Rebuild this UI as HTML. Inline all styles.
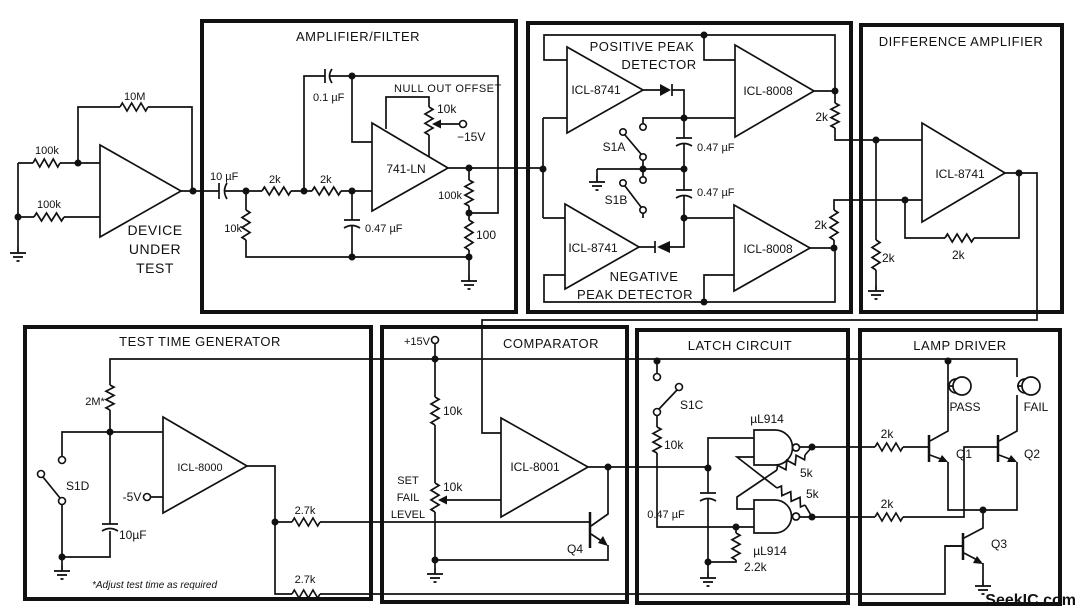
<!DOCTYPE html>
<html><head><meta charset="utf-8"><style>
html,body{margin:0;padding:0;background:#fff;}
svg{display:block;font-family:"Liberation Sans",sans-serif;}
text{fill:#111;}
</style></head><body>
<svg width="1085" height="614" viewBox="0 0 1085 614" xmlns="http://www.w3.org/2000/svg">
<defs>
<polyline id="r" points="0,0 2.5,-4 7.5,4 12.5,-4 17.5,4 22.5,-4 27.5,4 30,0" fill="none" stroke="#111" stroke-width="1.7" vector-effect="non-scaling-stroke"/>
<g id="g" stroke="#111" stroke-width="1.8"><line x1="0" y1="0" x2="0" y2="6"/><line x1="-8" y1="6" x2="8" y2="6"/><line x1="-5" y1="10" x2="5" y2="10"/><line x1="-1.5" y1="14" x2="1.5" y2="14"/></g>
</defs>
<rect width="1085" height="614" fill="#fff"/>
<g fill="none" stroke="#111" stroke-width="4">
<rect x="202" y="21" width="314" height="291"/>
<rect x="528" y="23" width="323" height="289"/>
<rect x="861" y="25" width="201" height="287"/>
<rect x="25" y="327" width="346" height="272"/>
<rect x="382" y="327" width="245" height="275"/>
<rect x="637" y="330" width="211" height="273"/>
<rect x="860" y="330" width="200" height="274"/>
</g>
<g fill="none" stroke="#111" stroke-width="1.7">
<path d="M18,163 H33 M60,163 H100 M78,163 V107 H120 M148,107 H192 V191 M18,163 V247 M18,217 H34 M64,217 H100 M181,191 H219"/>
<polygon points="100,145 100,237 181,191"/>
<path d="M219,183 V199 M227,183 Q222,191 227,199 M224,191 H262 M291,191 H312 M341,191 H372 M246,191 V210 M246,240 V257 H469 M352,191 V220 M344,220 H360 M344,228 Q352,223 360,228 M352,226 V257 M304,191 V76 H325 M325,69 V83 M332,69 Q327,76 332,83 M330,76 H498 V213 H469 M352,76 V142 H372 M386,129 V97 H429 V107 M429,135 V157 M463,124 H438 M448,168 H543 M469,168 V180 M469,206 V220 M469,250 V275"/>
<polygon points="372,123 372,211 448,168"/>
<path d="M543,118 V218 M543,118 H567 M543,218 H565 M567,60 H544 V35 H835 V91 M704,35 V60 H735 M643,90 H660 M672,84 V96 M672,90 H684 V138 M676,138 H692 M676,146 Q684,141 692,146 M684,144 V190 M676,190 H692 M676,198 Q684,193 692,198 M684,196 V247 H670 M655,241 V253 M655,247 H639 M684,118 H735 M684,218 H734 M814,91 H835 V103 M835,128 V140 H922 M643,124 V118 H684 M625,135 L641,154 M643,160 V169 M597,169 H684 M597,169 V176 M643,169 V177 M625,186 L641,207 M643,213 V218 M810,248 H834 V240 M834,210 V200 H922 M565,275 H544 V302 H835 V248 M704,302 V275 H734"/>
<polygon points="567,47 567,133 643,90"/>
<polygon points="735,45 735,137 814,91"/>
<polygon points="565,204 565,289 639,247"/>
<polygon points="734,205 734,291 810,248"/>
<polygon points="922,123 922,222 1005,173"/>
<path d="M1005,173 H1037 V320 H482 V433 H501 M876,140 V240 M876,270 V285 M905,200 V238 H945 M974,238 H1019 V173"/>
<path d="M110,432 V410 M110,385 V359 H1017 V377 M62,457 V432 H163 M43,477 L60,498 M62,504 V557 H110 V531 M102,524 H118 M102,531 Q110,526 118,531 M110,524 V432 M62,557 V565 M247,466 H275 V594 H292 M320,594 H945 V546 H963 M275,522 H292 M320,522 H590 M151,497 H163"/>
<polygon points="163,417 163,513 247,466"/>
<path d="M435,344 V397 M435,425 V483 M435,512 V568 M501,500 H444 M588,467 H708 M608,467 V514 L591,526 M591,534 L606,544 M608,545 V560 H435"/>
<polygon points="501,418 501,517 588,467"/>
<path d="M590,512 V548" stroke-width="2.5"/>
<path d="M657,361 V374 M677,390 L659,409 M657,415 V427 M657,453 V527 H754 M708,468 V493 M700,493 H716 M700,501 Q708,496 716,501 M708,499 V572 M708,468 V438 H754 M736,527 V533 M736,560 V562 H708 M754,430 H775 A17.5,17.5 0 0 1 775,465 H754 Z M754,500 H775 A16.5,16.5 0 0 1 775,533 H754 Z M800,447 H812 M800,517 H812 M754,457 H737 L777,488 M805,505 L812,517 M754,509 H737 V497 L777,470 M805,455 L812,447"/>
<circle cx="796" cy="447.5" r="3.5"/><circle cx="796" cy="516.5" r="3.5"/>
<path d="M812,447 H875 M903,447 H929 M930,441 L948,431 V361 M930,455 L946,461 M948,462 V510 H1017 V462 M999,441 L1017,431 V395 M999,455 L1015,461 M812,517 H875 M903,517 H964 V447 H998 M945,546 H963 M964,538 L983,528 V510 M964,553 L981,562 M983,563 V580"/>
<path d="M929,435 V462 M998,435 V462 M963,533 V560" stroke-width="2.5"/>
<circle cx="962" cy="386" r="9"/><path d="M956,379 A7,7 0 0 0 956,393 M948,386 H953"/>
<circle cx="1031" cy="386" r="9"/><path d="M1025,379 A7,7 0 0 0 1025,393 M1017,386 H1022"/>
</g>
<use href="#r" transform="translate(33,163) scale(0.9,1)"/>
<use href="#r" transform="translate(120,107) scale(0.933,1)"/>
<use href="#r" transform="translate(34,217) scale(1,1)"/>
<use href="#r" transform="translate(262,191) scale(0.967,1)"/>
<use href="#r" transform="translate(312,191) scale(0.967,1)"/>
<use href="#r" transform="translate(246,210) rotate(90)"/>
<use href="#r" transform="translate(429,107) rotate(90) scale(0.933,1)"/>
<use href="#r" transform="translate(469,180) rotate(90) scale(0.867,1)"/>
<use href="#r" transform="translate(469,220) rotate(90)"/>
<use href="#r" transform="translate(835,103) rotate(90) scale(0.833,1)"/>
<use href="#r" transform="translate(834,210) rotate(90)"/>
<use href="#r" transform="translate(876,240) rotate(90)"/>
<use href="#r" transform="translate(945,238) scale(0.967,1)"/>
<use href="#r" transform="translate(110,385) rotate(90) scale(0.833,1)"/>
<use href="#r" transform="translate(292,522) scale(0.933,1)"/>
<use href="#r" transform="translate(292,594) scale(0.933,1)"/>
<use href="#r" transform="translate(435,397) rotate(90) scale(0.933,1)"/>
<use href="#r" transform="translate(435,483) rotate(90) scale(0.967,1)"/>
<use href="#r" transform="translate(657,427) rotate(90) scale(0.867,1)"/>
<use href="#r" transform="translate(736,533) rotate(90) scale(0.9,1)"/>
<use href="#r" transform="translate(777,488) rotate(31.3) scale(1.09,1)"/>
<use href="#r" transform="translate(777,470) rotate(-28.2) scale(1.06,1)"/>
<use href="#r" transform="translate(875,447) scale(0.933,1)"/>
<use href="#r" transform="translate(875,517) scale(0.933,1)"/>
<use href="#g" transform="translate(18,247)"/>
<use href="#g" transform="translate(469,275)"/>
<use href="#g" transform="translate(597,176)"/>
<use href="#g" transform="translate(876,285)"/>
<use href="#g" transform="translate(62,565)"/>
<use href="#g" transform="translate(435,568)"/>
<use href="#g" transform="translate(708,572)"/>
<use href="#g" transform="translate(983,580)"/>
<g fill="#111">
<circle cx="78" cy="163" r="3.5"/><circle cx="18" cy="217" r="3.5"/><circle cx="193" cy="191" r="3.5"/>
<circle cx="246" cy="191" r="3.5"/><circle cx="304" cy="191" r="3.5"/><circle cx="352" cy="191" r="3.5"/><circle cx="352" cy="76" r="3.5"/><circle cx="352" cy="257" r="3.5"/><circle cx="469" cy="168" r="3.5"/><circle cx="469" cy="213" r="3.5"/><circle cx="469" cy="257" r="3.5"/>
<circle cx="543" cy="169" r="3.5"/><circle cx="704" cy="35" r="3.5"/><circle cx="684" cy="118" r="3.5"/><circle cx="643" cy="169" r="3.5"/><circle cx="684" cy="169" r="3.5"/><circle cx="684" cy="218" r="3.5"/><circle cx="704" cy="302" r="3.5"/><circle cx="835" cy="91" r="3.5"/><circle cx="834" cy="248" r="3.5"/>
<circle cx="876" cy="140" r="3.5"/><circle cx="905" cy="200" r="3.5"/><circle cx="1019" cy="173" r="3.5"/>
<circle cx="110" cy="432" r="3.5"/><circle cx="62" cy="557" r="3.5"/><circle cx="275" cy="522" r="3.5"/>
<circle cx="435" cy="359" r="3.5"/><circle cx="435" cy="560" r="3.5"/><circle cx="608" cy="467" r="3.5"/>
<circle cx="657" cy="361" r="3.5"/><circle cx="708" cy="468" r="3.5"/><circle cx="736" cy="527" r="3.5"/><circle cx="708" cy="562" r="3.5"/><circle cx="812" cy="447" r="3.5"/><circle cx="812" cy="517" r="3.5"/>
<circle cx="948" cy="361" r="3.5"/><circle cx="983" cy="510" r="3.5"/>
<polygon points="660,84 660,96 671,90"/>
<polygon points="670,241 670,253 657,247"/>
<polygon points="432,124 441,119.5 441,128.5"/>
<polygon points="438,500 447,495.5 447,504.5"/>
<polygon points="608,546 598,543 603,536"/>
<polygon points="948,462 938,462 942,455"/>
<polygon points="1017,462 1007,462 1011,455"/>
<polygon points="983,564 973,563 977,556"/>
</g>
<g fill="#fff" stroke="#111" stroke-width="1.6">
<circle cx="463" cy="124" r="3.5"/>
<circle cx="643" cy="127" r="3.2"/><circle cx="623" cy="132" r="3.2"/><circle cx="643" cy="157" r="3.2"/>
<circle cx="643" cy="180" r="3.2"/><circle cx="623" cy="183" r="3.2"/><circle cx="643" cy="210" r="3.2"/>
<circle cx="62" cy="460" r="3.5"/><circle cx="41" cy="474" r="3.5"/><circle cx="62" cy="501" r="3.5"/>
<circle cx="147" cy="497" r="3.5"/><circle cx="435" cy="340" r="3.5"/>
<circle cx="657" cy="377" r="3.5"/><circle cx="679" cy="387" r="3.5"/><circle cx="657" cy="412" r="3.5"/>
</g>
<g font-size="13" text-anchor="middle" letter-spacing="0.5">
<text x="358" y="41">AMPLIFIER/FILTER</text>
<text x="642" y="51">POSITIVE PEAK</text>
<text x="659" y="69">DETECTOR</text>
<text x="644" y="281">NEGATIVE</text>
<text x="635" y="299">PEAK DETECTOR</text>
<text x="961" y="46">DIFFERENCE AMPLIFIER</text>
<text x="200" y="346">TEST TIME GENERATOR</text>
<text x="551" y="348">COMPARATOR</text>
<text x="740" y="350">LATCH CIRCUIT</text>
<text x="960" y="350">LAMP DRIVER</text>
<text x="155" y="235" font-size="14">DEVICE</text>
<text x="155" y="254" font-size="14">UNDER</text>
<text x="155" y="273" font-size="14">TEST</text>
</g>
<g font-size="11">
<text x="35" y="154">100k</text>
<text x="124" y="100">10M</text>
<text x="37" y="208">100k</text>
<text x="210" y="180">10 µF</text>
<text x="269" y="183">2k</text>
<text x="320" y="183">2k</text>
<text x="242" y="232" text-anchor="end">10k</text>
<text x="313" y="101">0.1 µF</text>
<text x="394" y="92" letter-spacing="0.5">NULL OUT OFFSET</text>
<text x="437" y="113" font-size="12">10k</text>
<text x="457" y="141" font-size="12">−15V</text>
<text x="406" y="173" text-anchor="middle" font-size="12">741-LN</text>
<text x="462" y="199" text-anchor="end">100k</text>
<text x="476" y="239" font-size="12">100</text>
<text x="365" y="232">0.47 µF</text>
<text x="596" y="94" text-anchor="middle" font-size="12">ICL-8741</text>
<text x="768" y="95" text-anchor="middle" font-size="12">ICL-8008</text>
<text x="593" y="252" text-anchor="middle" font-size="12">ICL-8741</text>
<text x="768" y="253" text-anchor="middle" font-size="12">ICL-8008</text>
<text x="614" y="151" text-anchor="middle" font-size="12">S1A</text>
<text x="616" y="204" text-anchor="middle" font-size="12">S1B</text>
<text x="697" y="151">0.47 µF</text>
<text x="697" y="196">0.47 µF</text>
<text x="828" y="121" text-anchor="end" font-size="12">2k</text>
<text x="827" y="229" text-anchor="end" font-size="12">2k</text>
<text x="960" y="178" text-anchor="middle" font-size="12">ICL-8741</text>
<text x="882" y="262" font-size="12">2k</text>
<text x="952" y="259" font-size="12">2k</text>
<text x="95" y="405" text-anchor="middle">2M*</text>
<text x="66" y="490" font-size="12">S1D</text>
<text x="119" y="539" font-size="12">10µF</text>
<text x="200" y="471" text-anchor="middle" fill="#555">ICL-8000</text>
<text x="132" y="501" text-anchor="middle" font-size="12">-5V</text>
<text x="305" y="514" text-anchor="middle">2.7k</text>
<text x="305" y="583" text-anchor="middle">2.7k</text>
<text x="92" y="588" font-size="10" font-style="italic">*Adjust test time as required</text>
<text x="430" y="345" text-anchor="end">+15V</text>
<text x="443" y="415" font-size="12">10k</text>
<text x="443" y="491" font-size="12">10k</text>
<text x="408" y="484" text-anchor="middle">SET</text>
<text x="408" y="501" text-anchor="middle">FAIL</text>
<text x="408" y="518" text-anchor="middle">LEVEL</text>
<text x="535" y="471" text-anchor="middle" font-size="12">ICL-8001</text>
<text x="575" y="553" text-anchor="middle" font-size="12">Q4</text>
<text x="680" y="409" font-size="12">S1C</text>
<text x="664" y="449" font-size="12">10k</text>
<text x="666" y="518" text-anchor="middle">0.47 µF</text>
<text x="767" y="423" text-anchor="middle" font-size="12">µL914</text>
<text x="770" y="555" text-anchor="middle" font-size="12">µL914</text>
<text x="800" y="477" font-size="12">5k</text>
<text x="806" y="498" font-size="12">5k</text>
<text x="744" y="571" font-size="12">2.2k</text>
<text x="887" y="438" text-anchor="middle" font-size="12">2k</text>
<text x="887" y="508" text-anchor="middle" font-size="12">2k</text>
<text x="965" y="411" text-anchor="middle" font-size="12">PASS</text>
<text x="1036" y="411" text-anchor="middle" font-size="12">FAIL</text>
<text x="956" y="458" font-size="12">Q1</text>
<text x="1024" y="458" font-size="12">Q2</text>
<text x="991" y="548" font-size="12">Q3</text>
</g>
<text x="1076" y="605" text-anchor="end" font-size="16" font-weight="bold" fill="#8a8a8a">SeekIC.com</text>
</svg>
</body></html>
